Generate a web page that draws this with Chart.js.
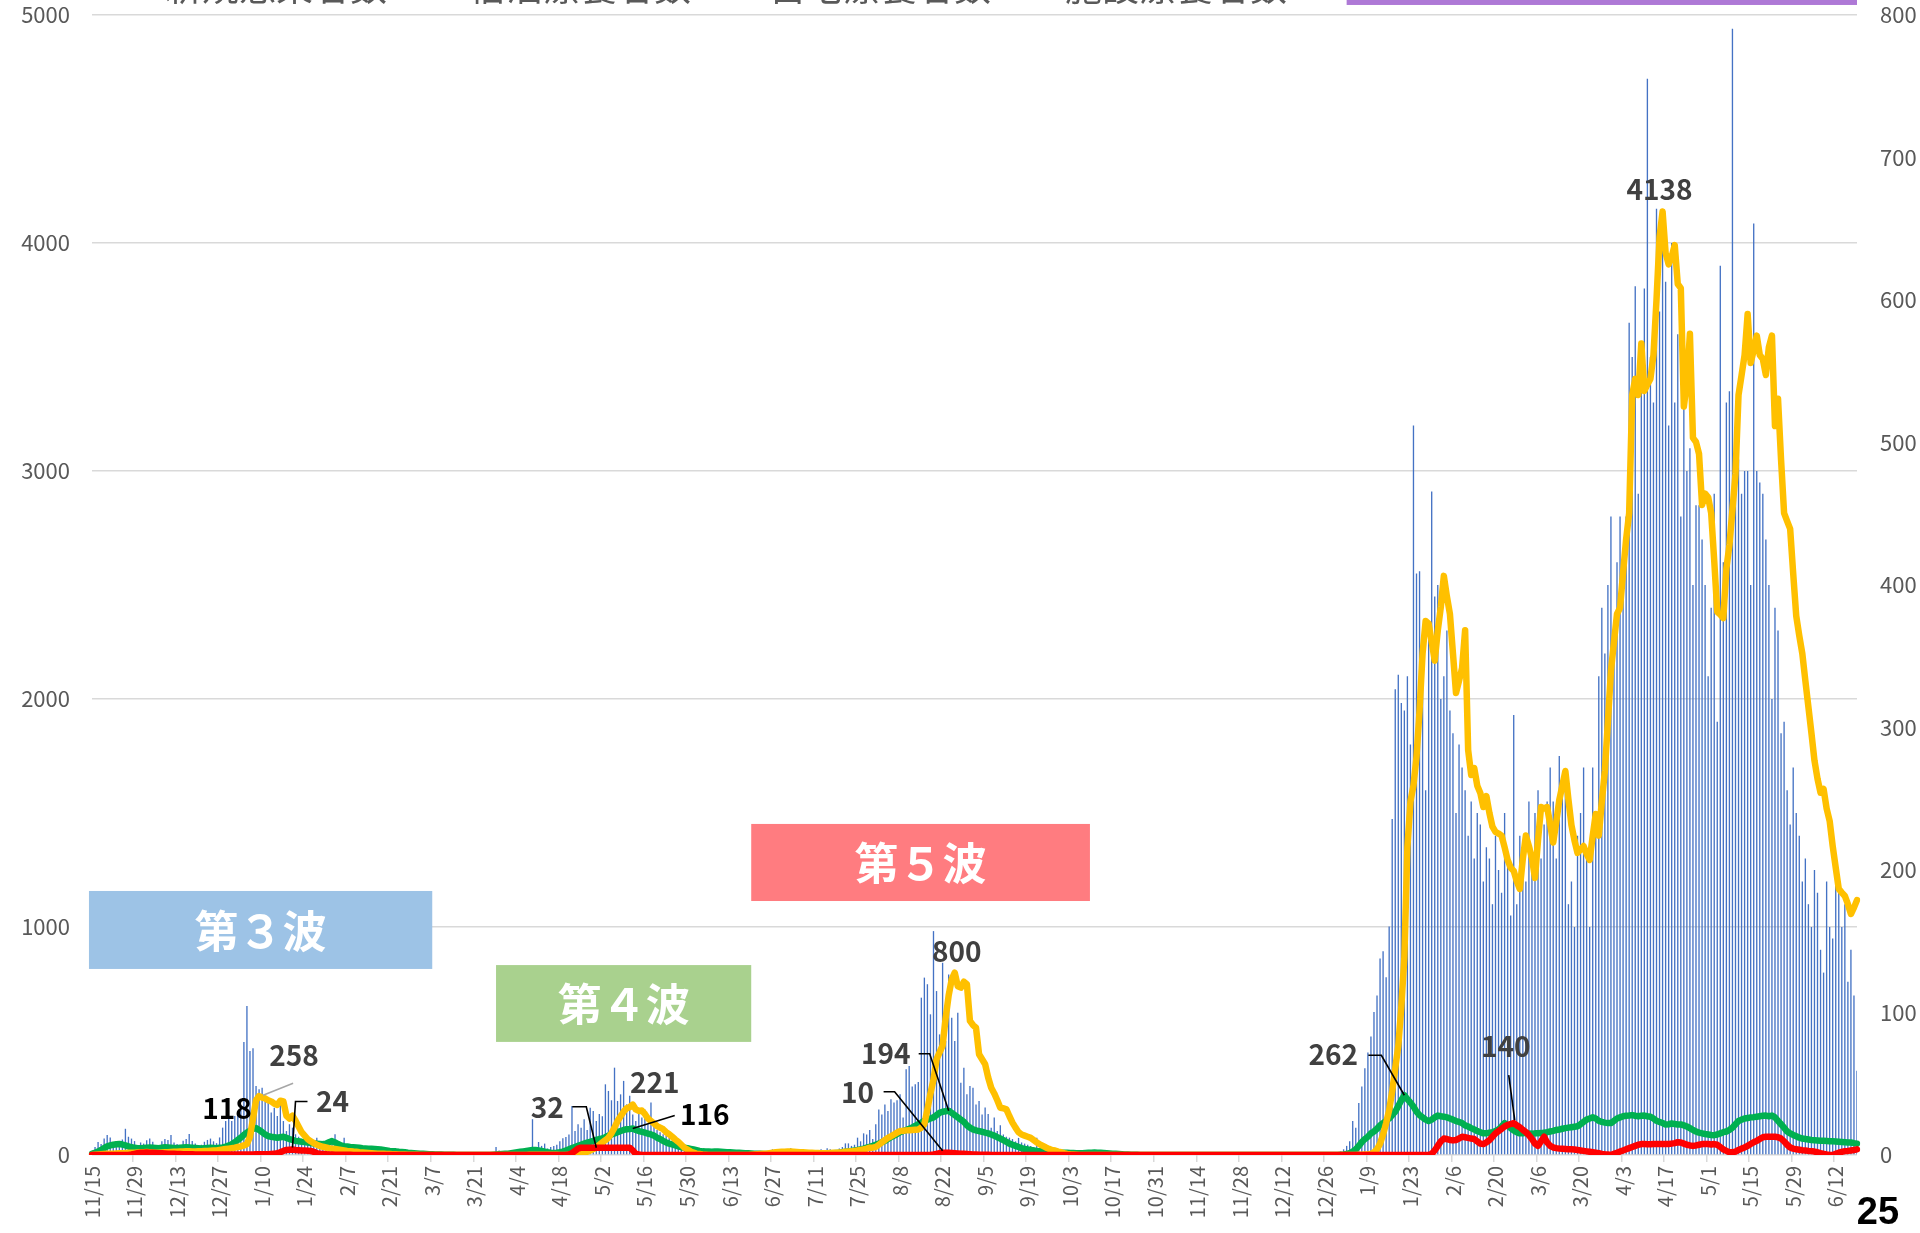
<!DOCTYPE html>
<html lang="ja">
<head>
<meta charset="utf-8">
<title>新規感染者数と療養者数の推移</title>
<script src="https://cdn.jsdelivr.net/npm/chart.js@4.4.1/dist/chart.umd.min.js"></script>
<style>
html, body { margin: 0; padding: 0; background: #ffffff; }
#wrap { position: relative; width: 1920px; height: 1233px; overflow: hidden; }
canvas { display: block; }
</style>
</head>
<body>
<div id="wrap"><canvas id="chart" width="1920" height="1233"></canvas></div>
<script>
// Daily series, one value per day starting 2020-11-15
const startDate = [2020, 11, 15];
const tickEvery = 14;

// 新規感染者数 (bars)
const newCases = [
  20, 35, 57, 48, 72, 88, 77, 45, 38, 60, 68, 115, 80, 72,
  61, 40, 55, 50, 65, 72, 58, 42, 35, 60, 70, 66, 88, 55,
  48, 40, 62, 70, 92, 61, 50, 38, 45, 58, 66, 72, 60, 52,
  77, 120, 149, 164, 149, 171, 193, 210, 496, 653, 456, 468, 303, 288,
  295, 237, 251, 186, 207, 171, 237, 149, 105, 135, 120, 91, 80, 61,
  76, 70, 55, 60, 76, 50, 40, 45, 60, 55, 91, 48, 40, 76,
  45, 30, 35, 40, 25, 20, 15, 22, 18, 12, 10, 15, 8, 6,
  5, 8, 4, 6, 3, 5, 2, 4, 6, 3, 2, 1, 3, 2,
  1, 2, 0, 3, 2, 1, 4, 2, 3, 5, 2, 1, 3, 4,
  2, 5, 3, 8, 12, 6, 10, 35, 20, 8, 12, 15, 10, 18,
  12, 20, 15, 25, 30, 157, 24, 57, 40, 50, 28, 35, 40, 45,
  60, 73, 79, 90, 215, 105, 135, 120, 157, 110, 207, 193, 149, 180,
  170, 310, 281, 240, 383, 237, 266, 325, 222, 260, 178, 149, 186, 164,
  200, 135, 230, 127, 110, 100, 91, 85, 76, 64, 58, 50, 40, 35,
  30, 25, 28, 20, 18, 15, 12, 10, 14, 9, 8, 12, 10, 6,
  8, 10, 5, 6, 10, 4, 8, 5, 6, 12, 5, 4, 6, 8,
  25, 10, 18, 6, 8, 12, 30, 7, 15, 9, 12, 10, 8, 14,
  12, 20, 25, 18, 30, 25, 20, 15, 28, 35, 51, 51, 40, 45,
  76, 60, 95, 90, 110, 70, 135, 200, 178, 222, 193, 244, 230, 240,
  266, 164, 376, 390, 300, 310, 320, 690, 778, 749, 617, 982, 719, 529,
  843, 500, 792, 602, 500, 624, 317, 383, 266, 303, 295, 222, 237, 178,
  208, 180, 120, 164, 105, 130, 90, 80, 76, 70, 60, 75, 55, 50,
  45, 40, 35, 76, 30, 28, 25, 20, 22, 18, 15, 12, 14, 10,
  8, 10, 6, 7, 5, 8, 6, 4, 5, 6, 3, 4, 5, 3,
  4, 2, 3, 5, 2, 3, 2, 1, 2, 3, 1, 2, 1, 2,
  1, 0, 1, 2, 1, 0, 1, 0, 2, 1, 0, 1, 0, 1,
  0, 1, 0, 0, 1, 0, 1, 0, 0, 1, 0, 0, 1, 0,
  0, 0, 1, 0, 0, 1, 0, 0, 0, 1, 0, 0, 0, 1,
  0, 1, 0, 0, 1, 2, 0, 1, 0, 2, 1, 3, 2, 1,
  2, 3, 4, 6, 8, 15, 25, 40, 60, 149, 120, 228, 300, 380,
  450, 520, 627, 700, 862, 894, 780, 1002, 1474, 2043, 2106, 1983, 1950, 2100,
  1800, 3200, 2550, 2560, 2100, 1600, 2300, 2910, 2450, 2500, 2000, 2100, 2300, 1950,
  1850, 1500, 1800, 1700, 1600, 1400, 1550, 1300, 1500, 1450, 1200, 1350, 1300, 1100,
  1400, 1250, 1150, 1500, 1300, 1050, 1930, 1100, 1400, 1250, 1200, 1550, 1300, 1500,
  1600, 1300, 1450, 1550, 1700, 1550, 1300, 1750, 1600, 1650, 1100, 1200, 1000, 1400,
  1500, 1700, 1300, 1000, 1700, 1450, 2100, 2400, 2200, 2500, 2800, 2300, 2600, 2800,
  2500, 2800, 3650, 3500, 3810, 2900, 3400, 3800, 4720, 3500, 3300, 4150, 3700, 4000,
  3830, 3200, 4000, 3300, 3600, 2800, 3350, 3000, 3100, 2500, 2850, 2850, 2700, 2500,
  2100, 2400, 2900, 1900, 3900, 2600, 3300, 3350, 4940, 3000, 3050, 2900, 3000, 3000,
  2500, 4085, 3000, 2950, 2900, 2700, 2500, 2000, 2400, 2300, 1850, 1900, 1600, 1450,
  1700, 1500, 1400, 1200, 1300, 1100, 1000, 1250, 1150, 900, 800, 1200, 1000, 950,
  1250, 1150, 1000, 1100, 760, 900, 700, 370
];

// 宿泊療養者数 (green line)
const hotelCare = [
  5, 10, 15, 22, 30, 38, 42, 45, 47, 48, 46, 42, 38, 34,
  32, 30, 30, 31, 32, 33, 32, 31, 30, 32, 34, 33, 32, 31,
  30, 32, 33, 34, 33, 32, 31, 30, 29, 30, 31, 32, 31, 30,
  32, 33, 36, 42, 47, 56, 66, 76, 88, 98, 106, 114, 118, 110,
  100, 90, 83, 80, 78, 76, 78, 80, 75, 70, 66, 62, 60, 58,
  57, 55, 53, 50, 49, 48, 47, 50, 56, 61, 55, 48, 42, 39,
  37, 35, 34, 33, 32, 30, 29, 28, 27, 26, 25, 24, 22, 20,
  18, 17, 16, 14, 13, 12, 10, 9, 8, 7, 6, 5, 4, 3,
  3, 2, 2, 2, 1, 1, 1, 1, 0, 0, 0, 0, 0, 0,
  0, 0, 0, 0, 0, 0, 1, 2, 3, 4, 5, 6, 8, 10,
  12, 14, 16, 18, 20, 22, 22, 20, 18, 15, 12, 10, 9, 10,
  12, 15, 20, 25, 30, 35, 40, 45, 50, 54, 58, 62, 66, 70,
  73, 78, 85, 90, 95, 100, 105, 110, 113, 114, 116, 110, 105, 102,
  98, 94, 90, 85, 76, 70, 62, 55, 50, 46, 42, 38, 34, 32,
  30, 27, 24, 21, 18, 16, 15, 15, 14, 15, 15, 14, 13, 12,
  12, 11, 10, 10, 9, 8, 8, 7, 6, 5, 5, 4, 4, 4,
  3, 4, 5, 6, 7, 6, 5, 5, 4, 4, 3, 3, 3, 3,
  3, 4, 4, 5, 6, 7, 8, 9, 10, 12, 14, 16, 18, 20,
  22, 25, 28, 32, 36, 40, 45, 50, 56, 62, 70, 78, 85, 92,
  100, 105, 110, 115, 120, 128, 135, 142, 150, 155, 160, 165, 175, 185,
  190, 192, 194, 185, 175, 165, 155, 145, 130, 120, 112, 108, 105, 102,
  98, 95, 90, 85, 78, 72, 65, 58, 50, 45, 40, 35, 30, 26,
  24, 22, 20, 18, 17, 16, 15, 14, 13, 12, 11, 10, 10, 10,
  9, 9, 8, 8, 8, 9, 10, 10, 11, 10, 10, 9, 8, 7,
  6, 5, 4, 3, 2, 2, 1, 1, 1, 0, 0, 0, 0, 0,
  0, 0, 0, 0, 0, 0, 0, 0, 0, 0, 0, 0, 0, 0,
  0, 0, 0, 0, 0, 0, 0, 0, 0, 0, 0, 0, 0, 0,
  0, 0, 0, 0, 0, 0, 0, 0, 0, 0, 0, 0, 0, 0,
  0, 0, 0, 0, 0, 0, 0, 0, 0, 0, 0, 0, 0, 0,
  0, 0, 0, 0, 0, 1, 2, 4, 8, 15, 25, 40, 57, 70,
  80, 95, 103, 115, 130, 140, 150, 160, 175, 190, 215, 240, 262, 245,
  230, 212, 190, 175, 165, 155, 149, 155, 165, 173, 170, 168, 165, 160,
  155, 149, 145, 140, 130, 125, 118, 112, 105, 100, 95, 95, 98, 100,
  105, 112, 125, 140, 130, 118, 108, 100, 95, 95, 97, 95, 93, 95,
  95, 96, 98, 100, 103, 106, 110, 112, 115, 118, 120, 122, 124, 126,
  135, 145, 155, 160, 165, 160, 150, 145, 142, 140, 140, 150, 160, 165,
  170, 172, 173, 175, 172, 170, 172, 173, 170, 168, 160, 150, 145, 140,
  134, 135, 138, 136, 134, 134, 130, 125, 118, 110, 103, 98, 95, 92,
  90, 88, 87, 90, 95, 100, 103, 110, 120, 135, 149, 155, 160, 162,
  165, 166, 168, 170, 172, 173, 170, 173, 165, 150, 135, 120, 103, 95,
  88, 82, 76, 72, 70, 68, 66, 65, 64, 63, 62, 61, 60, 60,
  59, 58, 57, 56, 55, 55, 52, 50
];

// 自宅療養者数 (yellow line)
const homeCare = [
  0, 1, 2, 3, 4, 5, 6, 6, 7, 8, 8, 9, 10, 10,
  10, 11, 12, 12, 13, 12, 11, 10, 10, 11, 12, 12, 13, 14,
  14, 15, 15, 16, 16, 15, 15, 16, 17, 18, 18, 19, 20, 20,
  22, 24, 26, 28, 30, 32, 35, 38, 42, 48, 80, 160, 240, 258,
  252, 248, 240, 235, 225, 220, 238, 235, 172, 160, 172, 150, 125, 100,
  85, 70, 60, 52, 45, 40, 36, 33, 30, 28, 26, 24, 22, 20,
  18, 17, 15, 14, 12, 11, 10, 9, 8, 7, 6, 5, 5, 4,
  4, 3, 3, 2, 2, 2, 1, 1, 1, 1, 0, 0, 0, 0,
  0, 0, 0, 0, 0, 0, 0, 0, 0, 0, 0, 0, 0, 0,
  0, 0, 0, 0, 0, 0, 0, 0, 0, 0, 0, 0, 0, 0,
  0, 0, 0, 0, 1, 1, 1, 1, 1, 1, 1, 1, 1, 1,
  0, 0, 0, 1, 2, 3, 5, 7, 10, 14, 20, 26, 32, 45,
  55, 65, 76, 95, 120, 149, 170, 190, 205, 210, 221, 200, 193, 195,
  180, 160, 149, 138, 127, 120, 113, 100, 91, 80, 68, 58, 45, 32,
  24, 16, 10, 6, 4, 2, 1, 0, 0, 0, 0, 0, 0, 0,
  0, 0, 0, 0, 0, 0, 0, 1, 2, 3, 4, 5, 6, 8,
  10, 12, 13, 14, 14, 15, 15, 14, 13, 12, 12, 11, 10, 10,
  9, 9, 8, 8, 8, 9, 10, 10, 11, 12, 14, 15, 16, 18,
  20, 22, 25, 28, 32, 32, 35, 45, 55, 65, 75, 82, 90, 98,
  105, 106, 108, 109, 110, 111, 112, 120, 135, 200, 270, 330, 420, 450,
  480, 600, 700, 770, 800, 740, 734, 760, 749, 588, 570, 558, 442, 420,
  398, 340, 295, 270, 240, 207, 205, 200, 170, 142, 120, 100, 90, 85,
  80, 75, 65, 55, 47, 40, 33, 27, 22, 20, 15, 12, 8, 5,
  3, 2, 1, 0, 0, 0, 0, 0, 0, 0, 0, 0, 0, 0,
  0, 0, 0, 0, 0, 0, 0, 0, 0, 0, 0, 0, 0, 0,
  0, 0, 0, 0, 0, 0, 0, 0, 0, 0, 0, 0, 0, 0,
  0, 0, 0, 0, 0, 0, 0, 0, 0, 0, 0, 0, 0, 0,
  0, 0, 0, 0, 0, 0, 0, 0, 0, 0, 0, 0, 0, 0,
  0, 0, 0, 0, 0, 0, 0, 0, 0, 0, 0, 0, 0, 0,
  0, 0, 0, 0, 0, 0, 0, 0, 0, 0, 0, 1, 1, 2,
  2, 5, 12, 25, 50, 90, 140, 197, 280, 380, 478, 650, 868, 1350,
  1550, 1621, 1746, 1950, 2200, 2342, 2330, 2250, 2168, 2300, 2403, 2540, 2450, 2373,
  2200, 2026, 2080, 2136, 2302, 1776, 1667, 1697, 1620, 1588, 1526, 1574, 1500, 1440,
  1417, 1410, 1401, 1350, 1294, 1260, 1246, 1200, 1167, 1300, 1401, 1355, 1300, 1215,
  1380, 1526, 1520, 1526, 1450, 1370, 1460, 1557, 1620, 1684, 1560, 1447, 1380, 1325,
  1340, 1355, 1320, 1294, 1400, 1496, 1401, 1550, 1684, 1900, 2123, 2250, 2373, 2400,
  2555, 2700, 2815, 3333, 3404, 3333, 3559, 3351, 3380, 3404, 3509, 3750, 4026, 4138,
  3956, 3906, 3940, 3991, 3820, 3802, 3283, 3386, 3602, 3145, 3127, 3075, 2851, 2901,
  2885, 2815, 2607, 2382, 2370, 2355, 2572, 2675, 2830, 2987, 3333, 3420, 3509, 3689,
  3474, 3530, 3594, 3509, 3491, 3421, 3544, 3594, 3197, 3317, 3050, 2815, 2780, 2746,
  2550, 2364, 2277, 2199, 2080, 1965, 1850, 1730, 1650, 1589, 1605, 1520, 1465, 1355,
  1260, 1167, 1151, 1136, 1100, 1057, 1085, 1118
];

// 施設療養者数 (red line)
const facilityCare = [
  0, 0, 0, 0, 0, 0, 0, 0, 0, 0, 0, 0, 0, 2,
  5, 8, 10, 10, 11, 10, 10, 9, 8, 8, 7, 6, 5, 5,
  4, 4, 3, 3, 3, 3, 2, 2, 2, 2, 2, 2, 2, 2,
  2, 2, 2, 2, 2, 2, 2, 2, 2, 2, 2, 2, 3, 3,
  3, 3, 3, 4, 5, 8, 12, 18, 22, 23, 24, 22, 21, 20,
  20, 19, 18, 14, 8, 5, 4, 3, 2, 2, 1, 1, 1, 1,
  1, 1, 0, 0, 0, 0, 0, 0, 0, 0, 0, 0, 0, 0,
  0, 0, 0, 0, 0, 0, 0, 0, 0, 0, 0, 0, 0, 0,
  0, 0, 0, 0, 0, 0, 0, 0, 0, 0, 0, 0, 0, 0,
  0, 0, 0, 0, 0, 0, 0, 0, 0, 0, 0, 0, 0, 0,
  0, 0, 0, 0, 0, 0, 0, 0, 0, 0, 0, 0, 0, 0,
  0, 0, 0, 2, 8, 18, 28, 32, 32, 32, 32, 32, 32, 32,
  32, 32, 32, 32, 32, 32, 32, 32, 32, 32, 20, 5, 2, 0,
  0, 0, 0, 0, 0, 0, 0, 0, 0, 0, 0, 0, 0, 0,
  0, 0, 0, 0, 0, 0, 0, 0, 0, 0, 0, 0, 0, 0,
  0, 0, 0, 0, 0, 0, 0, 0, 0, 0, 0, 0, 0, 0,
  0, 0, 0, 0, 0, 0, 0, 0, 0, 0, 0, 0, 0, 0,
  0, 0, 0, 0, 0, 0, 0, 0, 0, 0, 0, 0, 0, 0,
  0, 0, 0, 0, 0, 0, 0, 0, 0, 0, 0, 0, 0, 0,
  0, 0, 0, 0, 0, 0, 0, 0, 0, 0, 0, 2, 5, 8,
  10, 10, 10, 9, 8, 7, 6, 5, 4, 3, 2, 2, 1, 1,
  1, 1, 0, 0, 0, 0, 0, 0, 0, 0, 0, 0, 0, 0,
  0, 0, 0, 0, 0, 0, 0, 0, 0, 0, 0, 0, 0, 0,
  0, 0, 0, 0, 0, 0, 0, 0, 0, 0, 0, 0, 0, 0,
  0, 0, 0, 0, 0, 0, 0, 0, 0, 0, 0, 0, 0, 0,
  0, 0, 0, 0, 0, 0, 0, 0, 0, 0, 0, 0, 0, 0,
  0, 0, 0, 0, 0, 0, 0, 0, 0, 0, 0, 0, 0, 0,
  0, 0, 0, 0, 0, 0, 0, 0, 0, 0, 0, 0, 0, 0,
  0, 0, 0, 0, 0, 0, 0, 0, 0, 0, 0, 0, 0, 0,
  0, 0, 0, 0, 0, 0, 0, 0, 0, 0, 0, 0, 0, 0,
  0, 0, 0, 0, 0, 0, 0, 0, 0, 0, 0, 0, 0, 0,
  0, 0, 0, 0, 0, 0, 0, 5, 20, 40, 60, 72, 70, 66,
  64, 66, 72, 80, 78, 75, 72, 70, 60, 50, 48, 55, 65, 80,
  95, 105, 115, 125, 132, 136, 140, 130, 122, 110, 100, 87, 70, 50,
  40, 60, 80, 55, 40, 33, 30, 28, 27, 26, 25, 25, 24, 22,
  20, 18, 16, 14, 12, 10, 8, 5, 3, 2, 0, 5, 10, 15,
  20, 25, 30, 35, 40, 45, 48, 48, 47, 47, 48, 48, 48, 48,
  48, 48, 50, 52, 56, 55, 50, 45, 42, 40, 42, 45, 48, 48,
  48, 46, 48, 45, 35, 25, 18, 12, 12, 15, 22, 28, 33, 40,
  48, 56, 62, 70, 78, 80, 80, 80, 80, 78, 72, 60, 45, 33,
  28, 25, 23, 21, 20, 18, 17, 15, 12, 8, 5, 2, 0, 0,
  5, 10, 14, 17, 18, 20, 22, 25
];

const seriesNames = ['新規感染者数', '宿泊療養者数', '自宅療養者数', '施設療養者数'];
const seriesColors = ['#4472C4', '#00B050', '#FFC000', '#FF0000'];
const leftTicks = [0, 1000, 2000, 3000, 4000, 5000];
const rightTicks = [0, 100, 200, 300, 400, 500, 600, 700, 800];

// Daily category labels "M/D"
const categories = [];
const t0 = Date.UTC(startDate[0], startDate[1] - 1, startDate[2]);
for (let i = 0; i < newCases.length; i++) {
  const d = new Date(t0 + i * 86400000);
  categories.push((d.getUTCMonth() + 1) + '/' + d.getUTCDate());
}

// Wave captions: day-index span and value span on the left axis
const waveBoxes = [
  { text: '第３波', from: -1, to: 112, lo: 816, hi: 1158, fill: '#9DC3E6' },
  { text: '第４波', from: 133, to: 217, lo: 496, hi: 833, fill: '#A9D18E' },
  { text: '第５波', from: 217, to: 328.5, lo: 1114, hi: 1452, fill: '#FF7C80' },
  { text: '第６波', from: 413, to: 581, lo: 5044, hi: 5700, fill: '#AE79D6' }
];

// Value callouts: dataset, day index, label offset (px) and leader path (px from point)
const callouts = [
  { ds: 2, day: 55,  dx: 35,  dy: -41, color: '#404040', leader: [[4, -1], [34, -13]], leaderColor: '#A6A6A6' },
  { ds: 1, day: 54,  dx: -29, dy: -20, color: '#000000' },
  { ds: 3, day: 66,  dx: 40,  dy: -48, color: '#404040', leader: [[15, -48], [3, -48], [0, -2]] },
  { ds: 3, day: 166, dx: -49, dy: -40, color: '#404040', leader: [[-24, -41], [-10, -41], [0, 0]] },
  { ds: 2, day: 178, dx: 22,  dy: -22, color: '#404040' },
  { ds: 1, day: 178, dx: 72,  dy: -14, color: '#000000', leader: [[42, -13], [0, 0]] },
  { ds: 3, day: 280, dx: -85, dy: -60, color: '#404040', leader: [[-59, -61], [-48, -61], [0, -2]] },
  { ds: 1, day: 282, dx: -63, dy: -57, color: '#404040', leader: [[-30, -57], [-19, -57], [0, 0]] },
  { ds: 2, day: 284, dx: 2,   dy: -21, color: '#404040' },
  { ds: 1, day: 432, dx: -71, dy: -41, color: '#404040', leader: [[-36, -40], [-23, -40], [0, 0]] },
  { ds: 3, day: 468, dx: -8,  dy: -77, color: '#404040', leader: [[-5, -48], [1, -3]] },
  { ds: 2, day: 517, dx: -3,  dy: -22, color: '#404040' }
];

const FONT = '"Noto Sans CJK JP", "Noto Sans", sans-serif';

const overlayPlugin = {
  id: 'overlay',
  afterDatasetsDraw(chart) {
    const { ctx, scales } = chart;
    const x = scales.x, y = scales.y;
    ctx.save();
    // wave caption boxes
    waveBoxes.forEach(b => {
      const x0 = x.getPixelForValue(b.from), x1 = x.getPixelForValue(b.to);
      const y0 = y.getPixelForValue(b.hi), y1 = y.getPixelForValue(b.lo);
      ctx.fillStyle = b.fill;
      ctx.fillRect(x0, y0, x1 - x0, y1 - y0);
      ctx.fillStyle = '#ffffff';
      ctx.font = 'bold 44px ' + FONT;
      ctx.textAlign = 'center';
      ctx.textBaseline = 'middle';
      ctx.fillText(b.text, (x0 + x1) / 2, (y0 + y1) / 2 + 1);
    });
    // callouts
    callouts.forEach(c => {
      const v = chart.data.datasets[c.ds].data[c.day];
      const px = x.getPixelForValue(c.day), py = y.getPixelForValue(v);
      if (c.leader) {
        ctx.beginPath();
        c.leader.forEach((p, i) => {
          if (i === 0) ctx.moveTo(px + p[0], py + p[1]);
          else ctx.lineTo(px + p[0], py + p[1]);
        });
        ctx.strokeStyle = c.leaderColor || '#000000';
        ctx.lineWidth = 1.6;
        ctx.stroke();
      }
      ctx.fillStyle = c.color;
      ctx.font = 'bold 28px ' + FONT;
      ctx.textAlign = 'center';
      ctx.textBaseline = 'middle';
      ctx.fillText(String(v), px + c.dx, py + c.dy);
    });
    ctx.restore();
  },
  afterDraw(chart) {
    const ctx = chart.ctx;
    ctx.save();
    // legend row along the top edge
    const textStarts = [165, 469, 769, 1065];
    ctx.font = '37px ' + FONT;
    ctx.textAlign = 'left';
    ctx.textBaseline = 'alphabetic';
    seriesNames.forEach((name, i) => {
      const tx = textStarts[i];
      if (i === 0) {
        ctx.fillStyle = seriesColors[i];
        ctx.fillRect(tx - 30, -28, 18, 18);
      } else {
        ctx.strokeStyle = seriesColors[i];
        ctx.lineWidth = 6;
        ctx.beginPath();
        ctx.moveTo(tx - 52, -14);
        ctx.lineTo(tx - 12, -14);
        ctx.stroke();
      }
      ctx.fillStyle = '#595959';
      ctx.fillText(name, tx, 1);
    });
    // page number
    ctx.fillStyle = '#000000';
    ctx.font = 'bold 38px "Liberation Sans", Arial, sans-serif';
    ctx.textAlign = 'center';
    ctx.textBaseline = 'middle';
    ctx.fillText('25', 1878, 1214);
    ctx.restore();
  }
};

const xTickFont = { family: FONT, size: 20 };
const yTickFont = { family: FONT, size: 22 };
const plainTick = v => String(v);

new Chart(document.getElementById('chart'), {
  type: 'bar',
  data: {
    labels: categories,
    datasets: [
      { type: 'bar', label: seriesNames[0], data: newCases, backgroundColor: seriesColors[0],
        barPercentage: 0.44, categoryPercentage: 1.0, yAxisID: 'y', order: 4 },
      { type: 'line', label: seriesNames[1], data: hotelCare, borderColor: seriesColors[1], borderWidth: 6.5,
        pointRadius: 0, tension: 0, yAxisID: 'y', order: 3, borderJoinStyle: 'round', borderCapStyle: 'round' },
      { type: 'line', label: seriesNames[2], data: homeCare, borderColor: seriesColors[2], borderWidth: 6.5,
        pointRadius: 0, tension: 0, yAxisID: 'y', order: 2, borderJoinStyle: 'round', borderCapStyle: 'round' },
      { type: 'line', label: seriesNames[3], data: facilityCare, borderColor: seriesColors[3], borderWidth: 6.5,
        pointRadius: 0, tension: 0, yAxisID: 'y', order: 1, borderJoinStyle: 'round', borderCapStyle: 'round' }
    ]
  },
  options: {
    responsive: false,
    animation: false,
    devicePixelRatio: 1,
    layout: { padding: { top: 15, left: 0, right: 0, bottom: 0 } },
    plugins: { legend: { display: false }, tooltip: { enabled: false } },
    scales: {
      x: {
        offset: false,
        grid: {
          drawOnChartArea: false, drawTicks: true, tickLength: 7, lineWidth: 1.5,
          color: c => (c.index % tickEvery === 0 ? '#d9d9d9' : 'rgba(0,0,0,0)')
        },
        border: { display: false },
        ticks: {
          autoSkip: false, minRotation: 90, maxRotation: 90, padding: 4,
          color: '#595959', font: xTickFont,
          callback: (v, i) => (i % tickEvery === 0 ? categories[i] : '')
        },
        afterFit: s => { s.height = 78; }
      },
      y: {
        position: 'left', min: leftTicks[0], max: leftTicks[leftTicks.length - 1],
        afterBuildTicks: s => { s.ticks = leftTicks.map(v => ({ value: v })); },
        ticks: { padding: 22, color: '#595959', font: yTickFont, callback: plainTick },
        grid: { color: '#d9d9d9', lineWidth: 1.5, drawTicks: false },
        border: { display: false },
        afterFit: s => { s.width = 92; s.paddingTop = 15; s.paddingBottom = 0; }
      },
      y1: {
        position: 'right', min: rightTicks[0], max: rightTicks[rightTicks.length - 1],
        afterBuildTicks: s => { s.ticks = rightTicks.map(v => ({ value: v })); },
        ticks: { padding: 23, color: '#595959', font: yTickFont, callback: plainTick },
        grid: { drawOnChartArea: false, drawTicks: false },
        border: { display: false },
        afterFit: s => { s.width = 63; s.paddingTop = 15; s.paddingBottom = 0; }
      }
    }
  },
  plugins: [overlayPlugin]
});
</script>
</body>
</html>
